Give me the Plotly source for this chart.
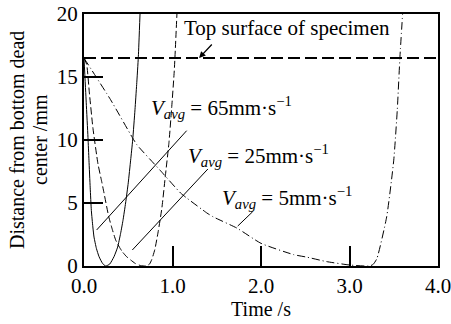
import plotly.graph_objects as go

# Data
t_65 = [0, 0.025, 0.045, 0.056, 0.07, 0.083, 0.10, 0.113, 0.14, 0.17, 0.21, 0.245,
        0.29, 0.339, 0.38, 0.414, 0.44, 0.47, 0.50, 0.527, 0.55, 0.576, 0.595, 0.614, 0.633]
d_65 = [16.5, 13.0, 10.2, 8.4, 6.2, 4.4, 3.1, 2.3, 1.4, 0.74, 0.2, 0.0,
        0.15, 0.74, 1.5, 2.6, 3.6, 5.0, 6.6, 8.4, 10.0, 12.4, 14.4, 16.6, 20.0]

t_25 = [0, 0.03, 0.06, 0.10, 0.158, 0.20, 0.226, 0.28, 0.32, 0.358, 0.40, 0.433, 0.48,
        0.527, 0.58, 0.64, 0.70, 0.74, 0.765, 0.80, 0.84, 0.88, 0.92, 0.96, 0.99, 1.02, 1.05]
d_25 = [16.5, 16.0, 13.8, 11.0, 8.1, 6.7, 5.8, 3.9, 2.9, 2.06, 1.5, 1.13, 0.75,
        0.48, 0.2, 0.03, 0.0, 0.15, 0.5, 1.3, 2.8, 4.6, 7.2, 9.8, 12.5, 15.5, 20.0]

t_5 = [0, 0.3, 0.546, 0.6, 0.86, 1.09, 1.16, 1.39, 1.46, 1.73, 2.0, 2.37, 2.52, 2.74,
       3.0, 3.23, 3.27, 3.31, 3.42, 3.50, 3.54, 3.57, 3.60]
d_5 = [16.5, 13.2, 10.2, 9.6, 7.6, 5.8, 5.4, 4.2, 3.9, 3.0, 1.8, 0.9, 0.7, 0.35,
       0.08, 0.0, 0.15, 0.6, 3.9, 8.4, 12.4, 16.6, 20.0]

surface_height = 16.5
x_ticks = [0, 1, 2, 3, 4]
x_ticklabels = ["0.0", "1.0", "2.0", "3.0", "4.0"]
y_ticks = [0, 5, 10, 15, 20]

FONT = "Liberation Serif"

fig = go.Figure()
fig.add_trace(go.Scatter(x=t_65, y=d_65, mode="lines", line=dict(color="black", width=1, shape="spline", smoothing=0.5)))
fig.add_trace(go.Scatter(x=t_25, y=d_25, mode="lines", line=dict(color="black", width=1, dash="7px,3px", shape="spline", smoothing=0.5)))
fig.add_trace(go.Scatter(x=t_5, y=d_5, mode="lines", line=dict(color="black", width=1, dash="8px,3px,1px,3px", shape="spline", smoothing=0.5)))
fig.add_trace(go.Scatter(x=[0, 4], y=[surface_height, surface_height], mode="lines",
                         line=dict(color="black", width=2, dash="12px,5px")))

# leader lines
leaders = [((1.16, 10.74), (0.143, 2.86)), ((1.40, 7.70), (0.546, 1.27)), ((1.906, 4.31), (1.737, 3.17))]
for (x0, y0), (x1, y1) in leaders:
    fig.add_shape(type="line", xref="x", yref="y", x0=x0, y0=y0, x1=x1, y1=y1,
                  line=dict(color="black", width=1))

anns = [
    dict(x=1.11, y=18.9, text="Top surface of specimen", xanchor="left", yanchor="middle"),
    dict(x=0.74, y=12.6, text="<i>V<sub>avg</sub></i> = 65mm·s<sup>−1</sup>", xanchor="left", yanchor="middle"),
    dict(x=1.15, y=8.8, text="<i>V<sub>avg</sub></i> = 25mm·s<sup>−1</sup>", xanchor="left", yanchor="middle"),
    dict(x=1.535, y=5.4, text="<i>V<sub>avg</sub></i> = 5mm·s<sup>−1</sup>", xanchor="left", yanchor="middle"),
]
for a in anns:
    fig.add_annotation(xref="x", yref="y", showarrow=False, font=dict(family=FONT, size=21, color="black"), **a)

fig.add_annotation(xref="x", yref="y", x=1.30, y=surface_height, ax=1.46, ay=17.7,
                   axref="x", ayref="y", text="", showarrow=True, arrowhead=2,
                   arrowsize=1, arrowwidth=1.3, arrowcolor="black")

# y-axis title (two lines)
fig.add_annotation(xref="paper", yref="paper", x=0, y=0.5, xshift=-67, text="Distance from bottom dead",
                   textangle=-90, showarrow=False, xanchor="center", yanchor="middle",
                   font=dict(family=FONT, size=20, color="black"))
fig.add_annotation(xref="paper", yref="paper", x=0, y=0.5, xshift=-44, text="center /mm",
                   textangle=-90, showarrow=False, xanchor="center", yanchor="middle",
                   font=dict(family=FONT, size=20, color="black"))

fig.update_layout(
    width=451, height=324,
    margin=dict(l=84, r=13, t=14, b=58),
    paper_bgcolor="white", plot_bgcolor="white",
    showlegend=False,
    font=dict(family=FONT, size=21, color="black"),
    xaxis=dict(range=[0, 4], tickvals=x_ticks, ticktext=x_ticklabels, ticks="inside", ticklen=20,
               tickwidth=2, tickcolor="black", linecolor="black", linewidth=2, mirror=True,
               showgrid=False, zeroline=False, automargin=False, ticklabeloverflow="allow",
               tickfont=dict(family=FONT, size=21),
               title=dict(text="Time /s", font=dict(family=FONT, size=20), standoff=4)),
    yaxis=dict(range=[0, 20], tickvals=y_ticks, ticks="inside", ticklen=19,
               tickwidth=2, tickcolor="black", linecolor="black", linewidth=2, mirror=True,
               showgrid=False, zeroline=False, automargin=False, ticklabeloverflow="allow",
               tickfont=dict(family=FONT, size=21)),
)

fig.write_html("out.html")
